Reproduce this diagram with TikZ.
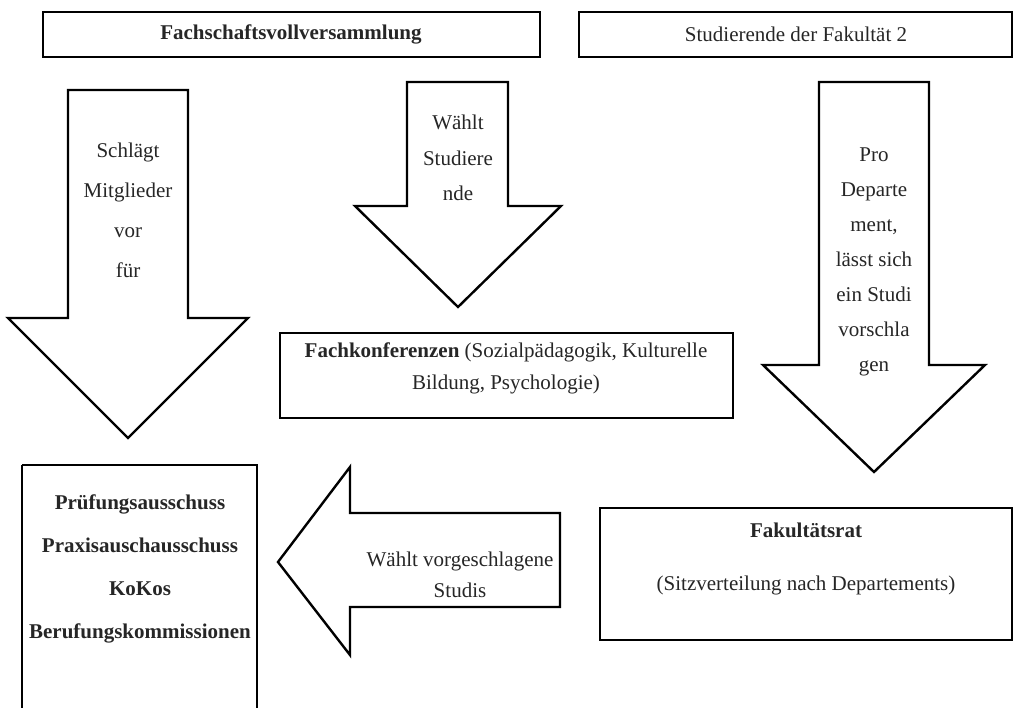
\documentclass[tikz,border=0pt]{standalone}
\usepackage{fontspec}
\setmainfont{Liberation Serif}
\begin{document}
\begin{tikzpicture}[x=1pt,y=-1pt,
  outline/.style={draw=black,line width=2.4pt,line join=miter,fill=white},
  txt/.style={font=\fontsize{21}{36}\selectfont,align=center,inner sep=0pt,text=black!85}]
\useasboundingbox (0,0) rectangle (1014,707);
% top boxes
\draw[outline] (43,12) rectangle (540,57);
\node[txt] (fv) at (291,34) {\textbf{Fachschaftsvollversammlung}};
\draw[outline] (579,12) rectangle (1012,57);
\node[txt] (sf) at (796,34) {Studierende der Fakultät 2};
% left down arrow
\draw[outline] (68,90) -- (188,90) -- (188,318) -- (248,318) -- (128,438) -- (8,318) -- (68,318) -- cycle;
\node[txt,font=\fontsize{21}{40}\selectfont] (a1) at (128,210) {Schlägt\\Mitglieder\\vor\\für};
% middle down arrow
\draw[outline] (407,82) -- (508,82) -- (508,206) -- (561,206) -- (458,307) -- (355,206) -- (407,206) -- cycle;
\node[txt,font=\fontsize{21}{35.5}\selectfont] (a2) at (458,158) {Wählt\\Studiere\\nde};
% right down arrow
\draw[outline] (819,82) -- (929,82) -- (929,365) -- (985,365) -- (874,472) -- (763,365) -- (819,365) -- cycle;
\node[txt,font=\fontsize{21}{35}\selectfont] (a3) at (874,262) {Pro\\Departe\\ment,\\lässt sich\\ein Studi\\vorschla\\gen};
% Fachkonferenzen box
\draw[outline] (280,333) rectangle (733,418);
\node[txt,font=\fontsize{21}{32}\selectfont] (fk) at (506,368) {\textbf{Fachkonferenzen} (Sozialpädagogik, Kulturelle\\Bildung, Psychologie)};
% bottom left box
\draw[outline] (22,465) -- (257,465) -- (257,712) (22,712) -- (22,465);
\node[txt,font=\fontsize{21}{43}\selectfont] (pa) at (140,569) {\textbf{Prüfungsausschuss}\\\textbf{Praxisauschausschuss}\\\textbf{KoKos}\\\textbf{Berufungskommissionen}};
% left pointing arrow
\draw[outline] (278,562) -- (350,467) -- (350,513) -- (560,513) -- (560,607) -- (350,607) -- (350,655) -- cycle;
\node[txt,font=\fontsize{21}{31}\selectfont] (a4) at (460,575) {Wählt vorgeschlagene\\Studis};
% Fakultaetsrat box
\draw[outline] (600,508) rectangle (1012,640);
\node[txt] (fr) at (806,530) {\textbf{Fakultätsrat}};
\node[txt] (sv) at (806,585) {(Sitzverteilung nach Departements)};
\end{tikzpicture}
\end{document}
